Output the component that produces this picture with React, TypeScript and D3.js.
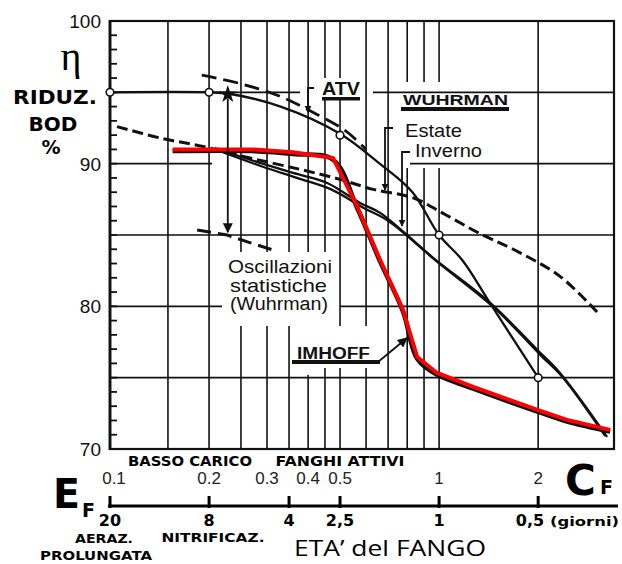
import React from 'react';
import * as d3 from 'd3';

// ---- data ----
const yTickValues = [70, 80, 90, 100];
const cfTickValues = [0.1, 0.2, 0.3, 0.4, 0.5, 1, 2];
const cfTickLabels = ['0.1', '0.2', '0.3', '0.4', '0.5', '1', '2'];
const ageTickCf = [0.1, 0.2, 0.35, 0.5, 1, 2];
const ageTickLabels = ['20', '8', '4', '2,5', '1', '0,5'];
const gridCf = [0.15, 0.2, 0.25, 0.3, 0.35, 0.4, 0.45, 0.5, 0.6, 0.7, 0.8, 0.9, 1, 2];

// ATV (solid with circles)
const atvCf = [0.1, 0.2, 0.23, 0.33, 0.5, 0.66, 0.83, 1.0, 1.18, 1.43, 2.0];
const atvVal = [95, 95, 94.9, 94.0, 92.1, 90.0, 88.0, 85.0, 83.2, 80.2, 75.0];
const atvMarkCf = [0.1, 0.2, 0.5, 1, 2];
const atvMarkVal = [95, 95, 92.0, 85.0, 75.0];

// upper dashed line (ATV band)
const upperDashCf = [0.19, 0.25, 0.33, 0.43, 0.52, 0.6];
const upperDashVal = [96.2, 95.6, 94.7, 93.4, 92.3, 91.0];

// Wuhrman long dashed curve
const wuhCf = [0.105, 0.142, 0.192, 0.266, 0.378, 0.5, 0.63, 0.834, 1.05, 1.33, 1.68, 2.33, 3.02];
const wuhVal = [92.6, 91.8, 91.2, 90.4, 89.6, 88.9, 88.2, 87.6, 86.4, 85.1, 84.0, 82.1, 79.6];

// Wuhrman estate / inverno solid pair
const estateCf = [0.208, 0.286, 0.36, 0.457, 0.575, 0.662, 0.959, 1.43, 1.99, 2.33, 3.24];
const estateVal = [91.1, 90.05, 89.35, 88.65, 87.25, 86.55, 83.4, 80.24, 76.94, 75.33, 70.85];
const invernoCf = [0.22, 0.29, 0.37, 0.47, 0.59, 0.7, 0.99, 1.47, 2.03, 2.38, 3.2];
const invernoVal = [90.8, 89.8, 89.0, 88.2, 86.9, 86.0, 83.1, 79.9, 76.6, 75.0, 70.9];

// Oscillazioni statistiche (short dashed)
const oscCf = [0.184, 0.227, 0.263, 0.313];
const oscVal = [85.35, 85.0, 84.5, 83.95];

// IMHOFF (red)
const imhoffCf = [0.155, 0.272, 0.36, 0.476, 0.564, 0.662, 0.777, 0.858, 0.986, 1.27, 1.99, 2.45, 3.31];
const imhoffVal = [91.0, 91.0, 90.8, 90.4, 87.0, 83.25, 79.75, 76.45, 75.33, 74.35, 72.74, 72.04, 71.34];

// star + oscillation arrow
const starCf = 0.228;
const starVal = 94.85;
const oscArrowEndVal = 85.2;

const W = 622;
const H = 564;

const zip = (a: number[], b: number[]) => a.map((v, i) => [v, b[i]] as [number, number]);

export default function App() {
  const x = d3.scaleLog().domain([0.1, 3.4]).range([110, 614]);
  const y = d3.scaleLinear().domain([70, 100]).range([449, 21]);
  const smooth = d3.line<[number, number]>().x(d => x(d[0])).y(d => y(d[1])).curve(d3.curveCatmullRom.alpha(0.5));
  const straight = d3.line<[number, number]>().x(d => x(d[0])).y(d => y(d[1]));

  const ink = '#111';
  const sans = 'Liberation Sans, Arial, sans-serif';
  const bold = 'DejaVu Sans, Verdana, sans-serif';

  const minor = d3.range(71, 100);
  const star = d3.symbol().type(d3.symbolStar).size(100)();

  // horizontal grid segments (pixel extents where the scan shows the line)
  const hSegs: [number, number, number][] = [
    [95, 110, 300], [95, 373, 614],
    [90, 110, 212], [90, 410, 614],
    [85, 110, 614],
    [80, 110, 222], [80, 340, 614],
    [75, 110, 614],
  ];

  return (
    <svg width={W} height={H} style={{ position: 'absolute', left: 0, top: 0, background: '#fff' }}>
      <defs>
        <marker id="ah" viewBox="0 0 10 10" refX="9" refY="5" markerWidth="7" markerHeight="9" orient="auto" markerUnits="userSpaceOnUse">
          <path d="M0,0 L10,5 L0,10 z" fill={ink} />
        </marker>
        <marker id="ah2" viewBox="0 0 10 10" refX="9" refY="5" markerWidth="12" markerHeight="10" orient="auto" markerUnits="userSpaceOnUse">
          <path d="M0,0 L10,5 L0,10 z" fill={ink} />
        </marker>
      </defs>
      <rect width={W} height={H} fill="#fff" />

      {/* vertical grid */}
      {gridCf.map(c => (
        <line key={'vg' + c} x1={x(c)} x2={x(c)} y1={21} y2={449} stroke={ink} strokeWidth={1.6} />
      ))}
      {/* knockouts behind labels */}
      <rect x={222} y={252} width={114} height={74} fill="#fff" />
      <rect x={290} y={326} width={92} height={42} fill="#fff" />
      <rect x={296} y={326} width={20} height={49} fill="#fff" />
      <rect x={396} y={82} width={116} height={86} fill="#fff" />
      <rect x={318} y={78} width={46} height={22} fill="#fff" />

      {/* horizontal grid */}
      {hSegs.map((s, i) => (
        <line key={'hg' + i} x1={s[1]} x2={s[2]} y1={y(s[0])} y2={y(s[0])} stroke={ink} strokeWidth={1.6} />
      ))}

      {/* frame */}
      <rect x={110} y={21} width={504} height={428} fill="none" stroke={ink} strokeWidth={2.2} />
      <line x1={110} x2={110} y1={20} y2={450} stroke={ink} strokeWidth={2.8} />
      {minor.map(v => (
        <line key={'mt' + v} x1={110} x2={117} y1={y(v)} y2={y(v)} stroke={ink} strokeWidth={1.8} />
      ))}

      {/* y labels */}
      {yTickValues.map(v => (
        <text key={'yl' + v} x={101} y={y(v) + 7} textAnchor="end" fontFamily={sans} fontSize={19} fill={ink}>{v}</text>
      ))}

      {/* curves */}
      <path d={smooth(zip(wuhCf, wuhVal)) || ''} fill="none" stroke={ink} strokeWidth={3} strokeDasharray="11 5" />
      <path d={smooth(zip(upperDashCf, upperDashVal)) || ''} fill="none" stroke={ink} strokeWidth={2.8} strokeDasharray="15 7" />
      <path d={smooth(zip(estateCf, estateVal)) || ''} fill="none" stroke={ink} strokeWidth={2.3} />
      <path d={smooth(zip(invernoCf, invernoVal)) || ''} fill="none" stroke={ink} strokeWidth={2.3} />
      <path d={smooth(zip(atvCf, atvVal)) || ''} fill="none" stroke={ink} strokeWidth={2.3} />
      <path d={straight(zip(oscCf, oscVal)) || ''} fill="none" stroke={ink} strokeWidth={3} strokeDasharray="14 7" />
      <path d={smooth(zip(imhoffCf, imhoffVal.map(v => v - 0.12))) || ''} fill="none" stroke={ink} strokeWidth={4.5} />
      <path d={straight(zip(imhoffCf, imhoffVal)) || ''} fill="none" stroke="#ff0000" strokeWidth={4} strokeLinejoin="round" />

      {atvMarkCf.map((c, i) => (
        <circle key={'mk' + c} cx={x(c)} cy={y(atvMarkVal[i])} r={3.8} fill="#fff" stroke={ink} strokeWidth={1.6} />
      ))}

      {/* star + arrow */}
      <line x1={x(starCf)} x2={x(starCf)} y1={y(starVal) + 4} y2={y(oscArrowEndVal)} stroke={ink} strokeWidth={1.8} markerEnd="url(#ah2)" />
      <path d={star || ''} transform={`translate(${x(starCf)},${y(starVal)})`} fill={ink} />

      {/* label brackets */}
      <path d="M314,88 H308 V112" fill="none" stroke={ink} strokeWidth={1.8} markerEnd="url(#ah)" />
      <path d="M393,128 H385 V190" fill="none" stroke={ink} strokeWidth={1.8} markerEnd="url(#ah)" />
      <path d="M410,152 H402 V226" fill="none" stroke={ink} strokeWidth={1.8} markerEnd="url(#ah)" />
      <path d="M378,362 L407,338" fill="none" stroke={ink} strokeWidth={1.8} markerEnd="url(#ah2)" />

      {/* in-chart labels */}
      <text x={322} y={95} fontFamily={sans} fontWeight="bold" fontSize={18} textLength={38} lengthAdjust="spacingAndGlyphs" fill={ink}>ATV</text>
      <rect x={322} y={97} width={38} height={3.5} fill={ink} />
      <text x={403} y={105} fontFamily={sans} fontWeight="bold" fontSize={15} textLength={105} lengthAdjust="spacingAndGlyphs" fill={ink}>WUHRMAN</text>
      <rect x={401} y={107} width={108} height={4} fill={ink} />
      <text x={405} y={137} fontFamily={sans} fontSize={19} textLength={57} lengthAdjust="spacingAndGlyphs" fill={ink}>Estate</text>
      <text x={415} y={157} fontFamily={sans} fontSize={19} textLength={67} lengthAdjust="spacingAndGlyphs" fill={ink}>Inverno</text>
      <text x={228} y={273} fontFamily={sans} fontSize={19} textLength={104} lengthAdjust="spacingAndGlyphs" fill={ink}>Oscillazioni</text>
      <text x={230} y={292} fontFamily={sans} fontSize={19} textLength={97} lengthAdjust="spacingAndGlyphs" fill={ink}>statistiche</text>
      <text x={230} y={310} fontFamily={sans} fontSize={18} textLength={98} lengthAdjust="spacingAndGlyphs" fill={ink}>(Wuhrman)</text>
      <text x={297} y={359} fontFamily={sans} fontWeight="bold" fontSize={16} textLength={73} lengthAdjust="spacingAndGlyphs" fill={ink}>IMHOFF</text>
      <rect x={292} y={360} width={88} height={4} fill={ink} />

      {/* y axis title */}
      <text x={71} y={70} textAnchor="middle" fontFamily="Liberation Serif, DejaVu Serif, serif" fontSize={40} fill="#000">η</text>
      <text x={55} y={104} textAnchor="middle" fontFamily={bold} fontWeight="bold" fontSize={20} textLength={84} lengthAdjust="spacingAndGlyphs" fill="#000">RIDUZ.</text>
      <text x={53} y={131} textAnchor="middle" fontFamily={bold} fontWeight="bold" fontSize={20} fill="#000">BOD</text>
      <text x={51} y={154} textAnchor="middle" fontFamily={bold} fontWeight="bold" fontSize={19} fill="#000">%</text>

      {/* bottom: regime labels */}
      <text x={190} y={466} textAnchor="middle" fontFamily={bold} fontWeight="bold" fontSize={14} textLength={124} lengthAdjust="spacingAndGlyphs" fill="#000">BASSO CARICO</text>
      <text x={340} y={466} textAnchor="middle" fontFamily={bold} fontWeight="bold" fontSize={14} textLength={129} lengthAdjust="spacingAndGlyphs" fill="#000">FANGHI ATTIVI</text>

      {/* CF tick labels */}
      {cfTickValues.map((c, i) => (
        <text key={'cf' + c} x={x(c) + (i === 0 ? 4 : 0)} y={484} textAnchor="middle" fontFamily={sans} fontSize={17} fill="#222">{cfTickLabels[i]}</text>
      ))}
      <text x={565} y={495} fontFamily={bold} fontWeight="bold" fontSize={42} fill="#000">C</text>
      <text x={600} y={494} fontFamily={bold} fontWeight="bold" fontSize={19} fill="#000">F</text>

      {/* sludge age axis */}
      <text x={53} y={508} fontFamily={bold} fontWeight="bold" fontSize={41} textLength={27} lengthAdjust="spacingAndGlyphs" fill="#000">E</text>
      <text x={82} y={517} fontFamily={bold} fontWeight="bold" fontSize={19} fill="#000">F</text>
      <line x1={108} x2={618} y1={506} y2={506} stroke="#000" strokeWidth={3} />
      {ageTickCf.map(c => (
        <line key={'at' + c} x1={x(c)} x2={x(c)} y1={496} y2={508} stroke="#000" strokeWidth={3} />
      ))}
      {ageTickCf.map((c, i) => (
        <text key={'al' + c} x={i === ageTickCf.length - 1 ? x(c) + 6 : x(c)} y={526}
          textAnchor={i === ageTickCf.length - 1 ? 'end' : 'middle'}
          fontFamily={bold} fontWeight="bold" fontSize={16} fill="#000">{ageTickLabels[i]}</text>
      ))}
      <text x={550} y={526} fontFamily={bold} fontWeight="bold" fontSize={13} textLength={69} lengthAdjust="spacingAndGlyphs" fill="#000">(giorni)</text>
      <text x={104} y={543} textAnchor="middle" fontFamily={bold} fontWeight="bold" fontSize={13} textLength={58} lengthAdjust="spacingAndGlyphs" fill="#000">AERAZ.</text>
      <text x={96} y={559.5} textAnchor="middle" fontFamily={bold} fontWeight="bold" fontSize={13} textLength={112} lengthAdjust="spacingAndGlyphs" fill="#000">PROLUNGATA</text>
      <text x={213} y={542} textAnchor="middle" fontFamily={bold} fontWeight="bold" fontSize={13} textLength={103} lengthAdjust="spacingAndGlyphs" fill="#000">NITRIFICAZ.</text>
      <text x={294} y={556} fontFamily="Open Sans, Lato, sans-serif" fontSize={22} textLength={192} lengthAdjust="spacingAndGlyphs" fill="#000">ETA’ del FANGO</text>
    </svg>
  );
}
